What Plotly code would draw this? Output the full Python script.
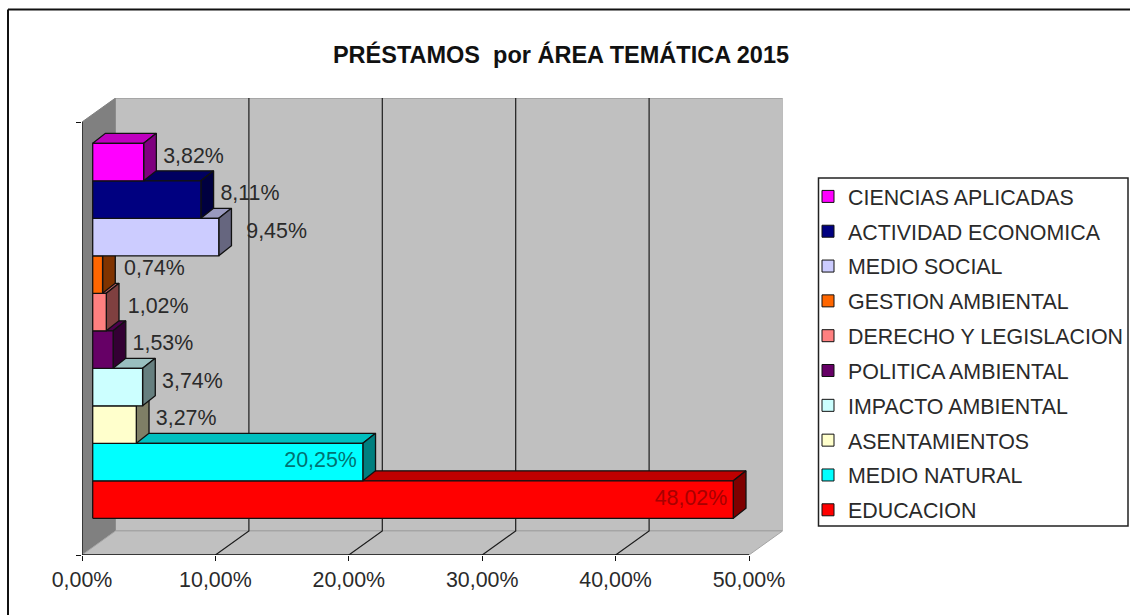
import plotly.graph_objects as go

# ---- data (top of the chart first) ----
CATEGORIES = ["CIENCIAS APLICADAS", "ACTIVIDAD ECONOMICA", "MEDIO SOCIAL", "GESTION AMBIENTAL",
              "DERECHO Y LEGISLACION", "POLITICA AMBIENTAL", "IMPACTO AMBIENTAL",
              "ASENTAMIENTOS", "MEDIO NATURAL", "EDUCACION"]
VALUES = [3.82, 8.11, 9.45, 0.74, 1.02, 1.53, 3.74, 3.27, 20.25, 48.02]
LABELS = ["3,82%", "8,11%", "9,45%", "0,74%", "1,02%", "1,53%", "3,74%", "3,27%", "20,25%", "48,02%"]
COLORS = ["#FF00FF", "#000080", "#CCCCFF", "#FF6600", "#FF8080",
          "#660066", "#CCFFFF", "#FFFFCC", "#00FFFF", "#FF0000"]
TICK_VALUES = [0, 10, 20, 30, 40, 50]
TICK_LABELS = ["0,00%", "10,00%", "20,00%", "30,00%", "40,00%", "50,00%"]
TITLE = "PRÉSTAMOS  por ÁREA TEMÁTICA 2015"

# ---- geometry of the oblique projection, in axis units ----
W, H = 1130, 615
PX_X = 13.34          # pixels per percentage point
PX_Y = 37.5           # pixels per category band
X0_PX, Y_BOTTOM_PX, Y_TOP_PX = 82, 555, 122
Y_ZERO_PX = 518.3     # pixel row of the lowest bar's front bottom edge
Y_MIN = (Y_ZERO_PX - Y_BOTTOM_PX) / PX_Y
Y_MAX = (Y_ZERO_PX - Y_TOP_PX) / PX_Y
X_MAX = 50
WALL_DX, WALL_DY = 33.5 / PX_X, 24 / PX_Y
BAR_X0 = 10.7 / PX_X
BAR_DX, BAR_DY = 12.7 / PX_X, 10 / PX_Y
FONT = "Liberation Sans"
TXT = "#2a2a2a"
LINE = "#111111"
FS = 21.4
LABEL_NUDGE_PX = {"9,45%": 8, "0,74%": 2, "1,02%": 2}


def shade(color, k):
    r, g, b = (int(color[i:i + 2], 16) for i in (1, 3, 5))
    return f"rgb({int(r * k)},{int(g * k)},{int(b * k)})"


def poly(xs, ys, fill, line=LINE, width=1.3):
    return go.Scatter(x=list(xs) + [xs[0]], y=list(ys) + [ys[0]], mode="lines", fill="toself",
                      fillcolor=fill, line=dict(color=line, width=width),
                      hoverinfo="skip", showlegend=False, cliponaxis=False)


fig = go.Figure()

# walls and floor
fig.add_trace(poly([0, WALL_DX, WALL_DX, 0], [Y_MIN, Y_MIN + WALL_DY, Y_MAX + WALL_DY, Y_MAX],
                   "#808080", "#808080", 1))
fig.add_trace(poly([WALL_DX, X_MAX + WALL_DX, X_MAX + WALL_DX, WALL_DX],
                   [Y_MIN + WALL_DY, Y_MIN + WALL_DY, Y_MAX + WALL_DY, Y_MAX + WALL_DY],
                   "#C0C0C0", "#8c8c8c", 1))
fig.add_trace(poly([0, WALL_DX, X_MAX + WALL_DX, X_MAX],
                   [Y_MIN, Y_MIN + WALL_DY, Y_MIN + WALL_DY, Y_MIN], "#C0C0C0", "#a5a5a5", 1))

# gridlines on the back wall and the floor
gx, gy = [], []
for t in TICK_VALUES[1:-1]:
    gx += [t, t + WALL_DX, t + WALL_DX, None]
    gy += [Y_MIN, Y_MIN + WALL_DY, Y_MAX + WALL_DY, None]
fig.add_trace(go.Scatter(x=gx, y=gy, mode="lines", line=dict(color="#1c1c1c", width=1.2),
                         hoverinfo="skip", showlegend=False, cliponaxis=False))

# front axis lines
fig.add_trace(go.Scatter(x=[0, 0, X_MAX], y=[Y_MAX, Y_MIN, Y_MIN], mode="lines",
                         line=dict(color=LINE, width=1.3),
                         hoverinfo="skip", showlegend=False, cliponaxis=False))

# bars, lowest first so each upper front face hides the top of the bar below
n = len(VALUES)
for i in reversed(range(n)):
    v, c = VALUES[i], COLORS[i]
    b = n - 1 - i
    x0, x1 = BAR_X0, BAR_X0 + v
    fig.add_trace(poly([x0, x0 + BAR_DX, x1 + BAR_DX, x1],
                       [b + 1, b + 1 + BAR_DY, b + 1 + BAR_DY, b + 1], shade(c, 0.75)))
    fig.add_trace(poly([x1, x1 + BAR_DX, x1 + BAR_DX, x1],
                       [b, b + BAR_DY, b + 1 + BAR_DY, b + 1], shade(c, 0.5)))
    fig.add_trace(poly([x0, x1, x1, x0], [b, b, b + 1, b + 1], c))

# data labels
for i, (v, lab) in enumerate(zip(VALUES, LABELS)):
    b = n - 1 - i
    inside = v > 15
    end = BAR_X0 + v
    if inside:
        x = end - 6 / PX_X
        y = b + 0.5
        pos = "middle left"
        color = shade(COLORS[i], 0.45) if lab != "48,02%" else "#A80000"
    else:
        x = end + (19.5 + LABEL_NUDGE_PX.get(lab, 0)) / PX_X
        y = b + 0.5 + 4.5 / PX_Y
        pos = "middle right"
        color = TXT
    fig.add_trace(go.Scatter(x=[x], y=[y], mode="text", text=[lab], textposition=pos,
                             textfont=dict(family=FONT, size=FS, color=color),
                             hoverinfo="skip", showlegend=False, cliponaxis=False))

# legend entries
for cat, c in zip(CATEGORIES, COLORS):
    fig.add_trace(go.Scatter(x=[None], y=[None], mode="markers", name=cat, legendgroup=cat,
                             marker=dict(symbol="square", size=12, color=c,
                                         line=dict(color=LINE, width=1))))

fig.update_layout(
    width=W, height=H, margin=dict(l=0, r=0, t=0, b=0, autoexpand=False),
    paper_bgcolor="white", plot_bgcolor="rgba(0,0,0,0)",
    font=dict(family=FONT, color=TXT, size=FS),
    title=dict(text=TITLE, x=561 / W, y=1 - 55 / H, xanchor="center", yanchor="middle",
               xref="paper", yref="paper", automargin=False,
               font=dict(family=FONT, size=23.5, color="#111111", weight="bold")),
    xaxis=dict(domain=[X0_PX / W, (X0_PX + (X_MAX + WALL_DX) * PX_X) / W], range=[0, X_MAX + WALL_DX],
               tickmode="array", tickvals=TICK_VALUES, ticktext=TICK_LABELS,
               ticks="outside", ticklen=5, tickcolor=LINE, showgrid=False, zeroline=False,
               showline=False, tickfont=dict(family=FONT, size=FS, color=TXT)),
    yaxis=dict(domain=[1 - Y_BOTTOM_PX / H, 1 - (Y_TOP_PX - WALL_DY * PX_Y) / H],
               range=[Y_MIN, Y_MAX + WALL_DY],
               tickmode="array", tickvals=[Y_MIN, Y_MAX], ticktext=["", ""],
               ticks="outside", ticklen=5, tickcolor=LINE, showgrid=False, zeroline=False,
               showline=False),
    legend=dict(x=808 / W, y=1 - 176 / H, xanchor="left", yanchor="top",
                bgcolor="rgba(0,0,0,0)", borderwidth=0, tracegroupgap=4,
                font=dict(family=FONT, size=FS, color=TXT)),
    shapes=[
        dict(type="rect", xref="paper", yref="paper", x0=818.5 / W, x1=1128 / W,
             y0=1 - 178 / H, y1=1 - 526 / H, line=dict(color="#222222", width=1.5),
             fillcolor="white", layer="below"),
        dict(type="line", xref="paper", yref="paper", x0=8 / W, x1=8 / W, y0=0, y1=1 - 9.5 / H,
             line=dict(color=LINE, width=2)),
        dict(type="line", xref="paper", yref="paper", x0=8 / W, x1=1, y0=1 - 9.5 / H, y1=1 - 9.5 / H,
             line=dict(color=LINE, width=2)),
    ],
)

fig.write_html("out.html", config={"displayModeBar": False},
               post_script="document.body.style.margin='0';document.body.style.overflow='hidden';")
